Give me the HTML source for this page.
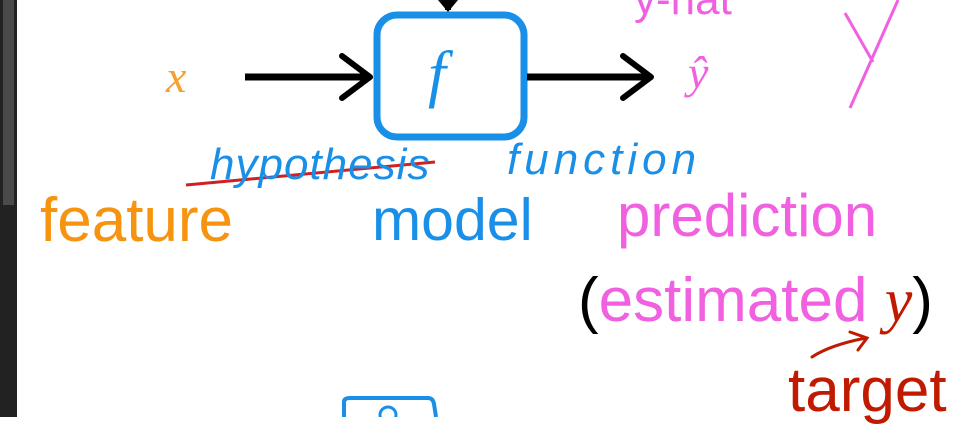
<!DOCTYPE html>
<html><head><meta charset="utf-8"><style>
body{margin:0;width:967px;height:417px;overflow:hidden;background:#fff;position:relative;font-family:"Liberation Sans",sans-serif}
.t{position:absolute;white-space:nowrap;line-height:1}
</style></head><body>
<div style="position:absolute;left:0;top:0;width:17px;height:417px;background:#222"></div>
<div style="position:absolute;left:3px;top:0;width:11px;height:205px;background:#4a4a4a"></div>
<svg width="967" height="417" style="position:absolute;left:0;top:0">
<rect x="377" y="15" width="147" height="122" rx="20" fill="none" stroke="#1a8fe8" stroke-width="7"/>
<path d="M448 0 V10" stroke="#000" stroke-width="6"/>
<path d="M438 0 L448 12 L458 0Z" fill="#000"/>
<path d="M245 77 H368" stroke="#000" stroke-width="7"/>
<path d="M342 56 L370 77 L342 98" fill="none" stroke="#000" stroke-width="6" stroke-linecap="round" stroke-linejoin="round"/>
<path d="M527 77 H650" stroke="#000" stroke-width="7"/>
<path d="M623 56 L651 77 L623 98" fill="none" stroke="#000" stroke-width="6" stroke-linecap="round" stroke-linejoin="round"/>
<path d="M845 13 L873 62 M898 0 L850 108" stroke="#f060e0" stroke-width="3" fill="none"/>
<path d="M186 185 L435 162" stroke="#d02020" stroke-width="3"/>
<path d="M812 357 Q830 345 866 338 M850 332 L867 338 L858 350" stroke="#c01a00" stroke-width="3" fill="none" stroke-linecap="round"/>
<path d="M344 417 V402 Q344 398 350 398 H428 Q433 398 434 404 L436 417" stroke="#1a8fe8" stroke-width="4" fill="none"/>
<circle cx="388" cy="415" r="8" fill="none" stroke="#1a8fe8" stroke-width="3"/>
</svg>
<div class="t" style="left:166px;top:54px;font-family:'Liberation Serif',serif;font-style:italic;font-size:46px;color:#f5a030">x</div>
<div class="t" style="left:428px;top:42px;font-family:'Liberation Serif',serif;font-style:italic;font-size:64px;color:#1a8fe8">f</div>
<div class="t" style="left:688px;top:50px;font-family:'Liberation Serif',serif;font-style:italic;font-size:46px;color:#f060e0">ŷ</div>
<div class="t" style="left:634px;top:-22px;font-size:44px;color:#f060e0">y-hat</div>
<div class="t" style="left:210px;top:143px;font-size:44px;color:#1a8fe8;font-style:italic;letter-spacing:1px">hypothesis</div>
<div class="t" style="left:507px;top:138px;font-size:44px;color:#1a8fe8;font-style:italic;letter-spacing:5px">function</div>
<div class="t" style="left:40px;top:190px;font-size:62px;color:#f7940f">feature</div>
<div class="t" style="left:372px;top:191px;font-size:59px;color:#1a8fe8">model</div>
<div class="t" style="left:617px;top:186px;font-size:60px;color:#f060e0">prediction</div>
<div class="t" style="left:578px;top:270px;font-size:62px;color:#000">(<span style="color:#f060e0">estimated </span><span style="font-family:'Liberation Serif',serif;font-style:italic;color:#c01a00">y</span>)</div>
<div class="t" style="left:788px;top:360px;font-size:62px;color:#c01a00">target</div>
</body></html>
